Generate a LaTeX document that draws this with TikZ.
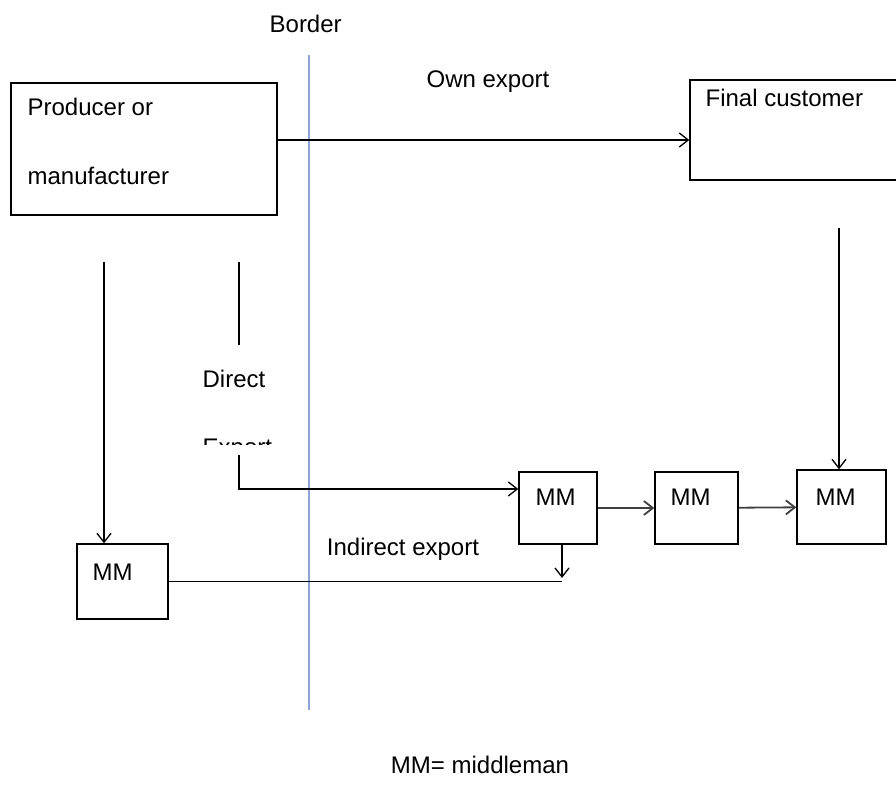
\documentclass[tikz,border=0pt]{standalone}
\usepackage{fontspec}
\setmainfont{Liberation Sans}
\usetikzlibrary{arrows.meta}
\begin{document}
\begin{tikzpicture}
  [x=0.5pt,y=-0.5pt,line width=0.65pt,>={Straight Barb[length=4.5pt,width=7pt]},
   box/.style={draw,inner sep=0pt},
   lbl/.style={inner sep=0pt,anchor=base west,font=\fontsize{12}{14}\selectfont}]
  \useasboundingbox (0,0) rectangle (896,792);
  \draw[color={rgb,255:red,140;green,165;blue,210}] (309,55) -- (309,710);
  \node[box,minimum width=133pt,minimum height=66pt] (prod) at (144,149) {};
  \node[box,minimum width=110pt,minimum height=50pt] (final) at (800,130) {};
  \node[box,minimum width=39pt,minimum height=36pt] (mm1) at (558,508) {};
  \node[box,minimum width=41.5pt,minimum height=36pt] (mm2) at (696.5,508) {};
  \node[box,minimum width=44.5pt,minimum height=37pt] (mm3) at (841.5,507) {};
  \node[box,minimum width=45.5pt,minimum height=37.5pt] (mm0) at (122.5,581.5) {};
  \node[lbl] (border) at (269,33) {Border};
  \node[lbl,anchor=base] (ownexp) at (488,88) {Own export};
  \node[lbl] (prodA) at (27,116) {Producer or};
  \node[lbl] (prodB) at (27,185) {manufacturer};
  \node[lbl] (finaltxt) at (705,107) {Final customer};
  \node[lbl] (direct) at (202,387) {Direct};
  \begin{scope}
    \clip (190,420) rectangle (300,444);
    \node[lbl] (export) at (202,455) {Export};
  \end{scope}
  \node[lbl,anchor=base] (indirect) at (403,555) {Indirect export};
  \node[lbl] (mmA) at (535,505) {MM};
  \node[lbl] (mmB) at (670,505) {MM};
  \node[lbl] (mmC) at (815,505) {MM};
  \node[lbl] (mmD) at (92,581) {MM};
  \node[lbl,anchor=base] (legend) at (480,773) {MM= middleman};
  \coordinate (oe) at (277,140);
  \coordinate (fc) at (839,228);
  \coordinate (pl) at (104,262);
  \coordinate (da) at (239,262);
  \coordinate (db) at (239,345);
  \coordinate (dc) at (239,455);
  \coordinate (dd) at (239,489);
  \coordinate (ie) at (562,578);
  \draw[->] (oe) -- (oe -| final.west);
  \draw[->] (fc) -- (fc |- mm3.north);
  \draw[->] (pl) -- (pl |- mm0.north);
  \draw (da) -- (db);
  \draw[->] (dc) -- (dd) -- (dd -| mm1.west);
    \foreach \from/\to in {mm1/mm2,mm2/mm3}
    \draw[->,line width=0.9pt,black!75] (\from) -- (\to);
  \draw (mm0.east) -- (mm0.east -| ie);
  \draw[->] (ie |- mm1.south) -- (ie);
\end{tikzpicture}
\end{document}
